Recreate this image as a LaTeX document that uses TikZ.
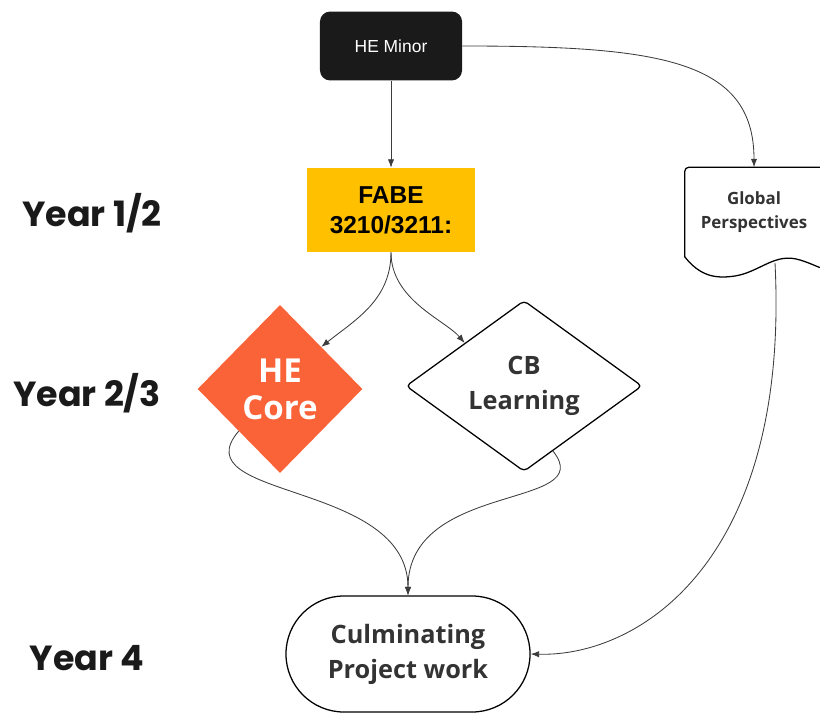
\documentclass[tikz,border=0pt]{standalone}
\usepackage{fontspec}
\setmainfont{Liberation Sans}
\newfontfamily\opensans{Open Sans}
\newfontfamily\poppins{Poppins}
\usetikzlibrary{arrows.meta,shapes.geometric}
\definecolor{minorblack}{HTML}{1A1A1A}
\definecolor{fabeyellow}{HTML}{FFC000}
\definecolor{coreorange}{HTML}{FA6238}
\definecolor{textgray}{HTML}{333333}
\definecolor{linegray}{HTML}{3C3C3C}

\begin{document}
\begin{tikzpicture}[x=0.025cm, y=-0.025cm,
    minor/.style={fill=minorblack, rounded corners=0.25cm, minimum width=3.55cm,
                  minimum height=1.72cm, text=white, font=\fontsize{12.4}{15}\selectfont},
    fabe/.style={fill=fabeyellow, minimum width=4.2cm, minimum height=2.1cm, align=center,
                 text=black, font=\bfseries\fontsize{17.4}{21.3}\selectfont},
    boldtxt/.style={align=center, text=textgray, font=\opensans\bfseries\fontsize{18}{25}\selectfont},
    core/.style={diamond, fill=coreorange, minimum width=4.12cm, minimum height=4.2cm, inner sep=0pt,
                 align=center, text=white, font=\opensans\bfseries\fontsize{23.5}{26.3}\selectfont},
    cbox/.style={boldtxt, diamond, draw=black, line width=0.9pt, rounded corners=3pt,
                 minimum width=5.9cm, minimum height=3.95cm, inner sep=0pt},
    culm/.style={boldtxt, draw=black, line width=0.9pt, rounded corners=1.45cm,
                 minimum width=6.1cm, minimum height=2.9cm},
    doc/.style={align=center, text=textgray, minimum width=3.45cm, minimum height=2.225cm,
                font=\opensans\bfseries\fontsize{12}{17}\selectfont},
    docline/.style={draw=black, line width=0.9pt},
    year/.style={text=minorblack, font=\poppins\bfseries\fontsize{24.8}{29}\selectfont},
    conn/.style={-{Latex[length=6pt,width=4.5pt]}, draw=linegray, line width=0.6pt}
  ]
    \useasboundingbox (0,0) rectangle (820,714);

    \node[year] (y12) at (92,213) {Year 1/2};
    \node[year] (y23) at (87,393) {Year 2/3};
    \node[year] (y4)  at (87,658) {Year 4};

    \node[minor] (minor) at (391,46)  {HE Minor};
    \node[fabe]  (fabe)  at (391,210) {FABE\\3210/3211:};
    \node[core]  (core)  at (280,389) {HE\\Core};
    \node[cbox]  (cb)    at (524,386) {CB\\Learning};
    \node[culm]  (culm)  at (408,654) {Culminating\\Project work};
    \node[doc]   (global) at (754,212) {Global\\Perspectives};

    % document outline
    \draw[docline, rounded corners=3pt] (global.south west) -- (global.north west) -- (global.north east);
    \draw[docline] (global.south west) .. controls (700,276) and (715,279) .. (735,276)
      .. controls (760,272) and (775,252) .. (800,260) .. controls (810,263) and (815,266) .. (824,269);
    \coordinate (gwave) at (775,263);

    \draw[conn] (minor) -- (fabe);
    \draw[conn] (minor.east) .. controls (660,46) and (754,60) .. (global.north);
    \draw[conn] (fabe.south) .. controls (391,300) and (355,320) .. (core.north east);
    \draw[conn] (fabe.south) .. controls (391,300) and (445,320) .. (cb.north west);
    \draw[conn] (core.south west) .. controls (180,500) and (408,480) .. (culm.north);
    \draw[conn] (cb.-66) .. controls (600,510) and (408,480) .. (culm.north);
    \draw[conn] (gwave) .. controls (790,560) and (640,657) .. (culm.east);
  \end{tikzpicture}
\end{document}
